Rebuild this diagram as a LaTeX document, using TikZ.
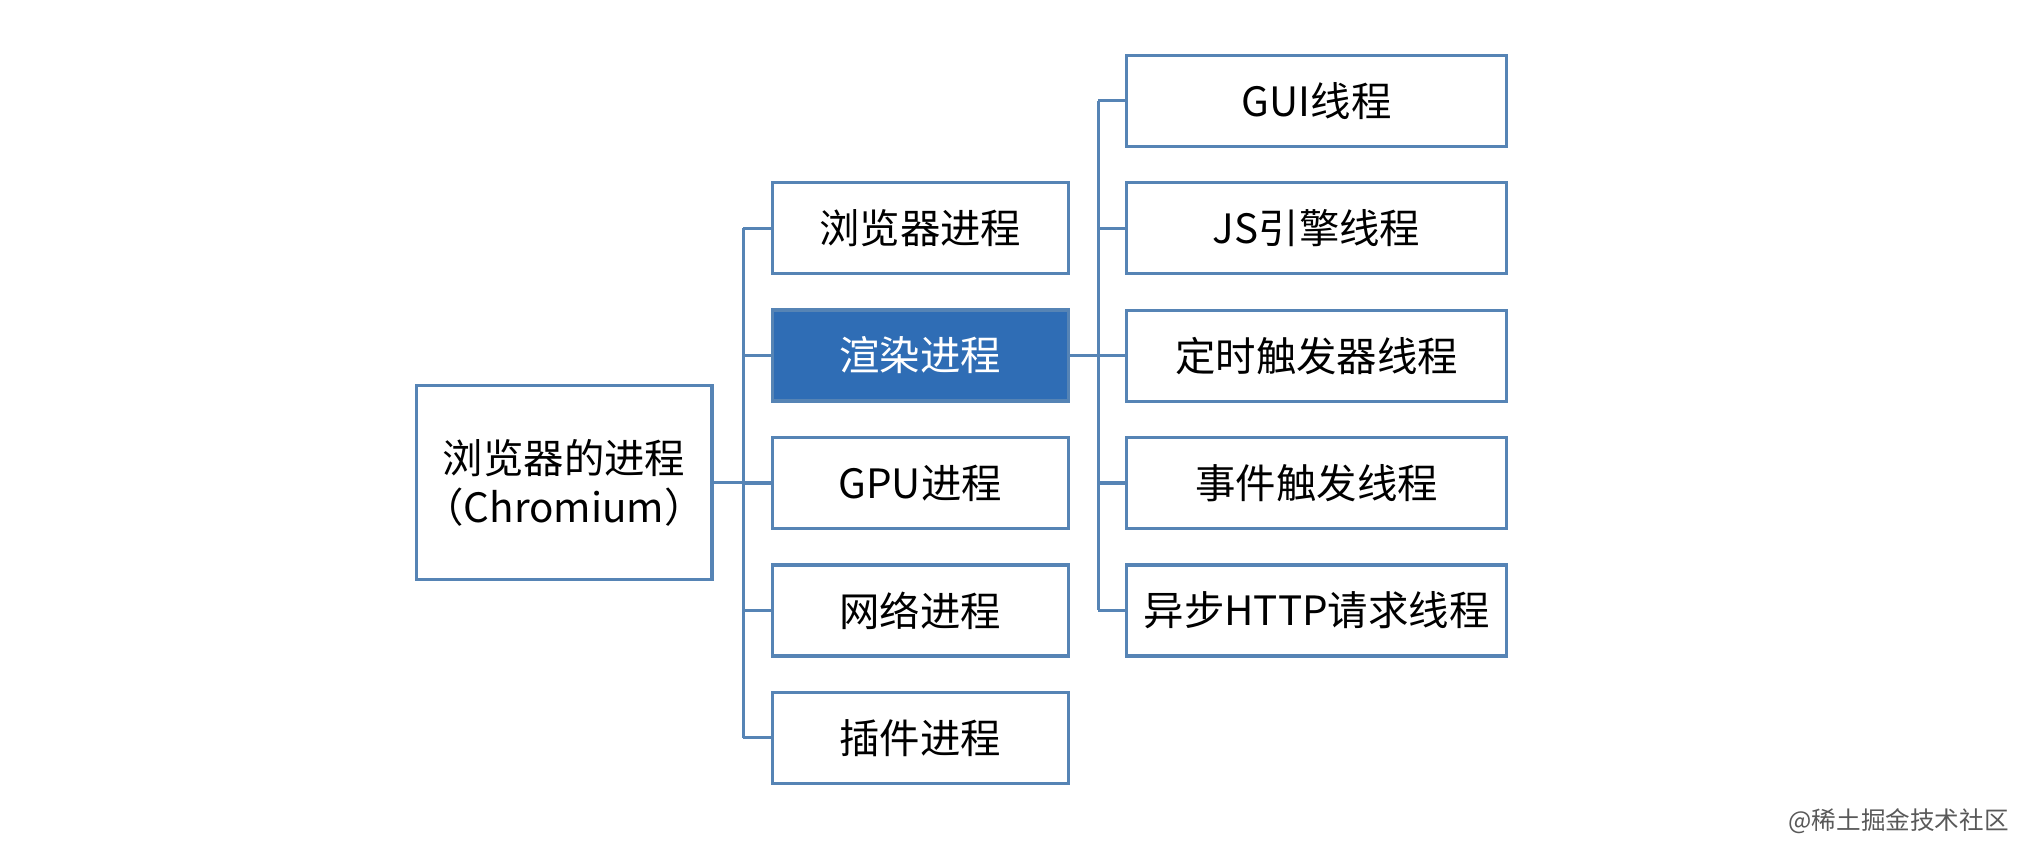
\documentclass[tikz,border=0pt]{standalone}
\usepackage{fontspec}
\setmainfont{Noto Sans CJK SC}
\usetikzlibrary{positioning}

\begin{document}
\begin{tikzpicture}[
            x=0.013cm,y=-0.013cm,
            node distance=0.333cm,
            font=\fontsize{11.5}{14}\selectfont
        ]
            \definecolor{edx}{HTML}{5684B5}
            \definecolor{fix}{HTML}{2F6DB5}

            \tikzset{
                box/.style={draw=edx,line width=0.9pt,fill=white,
                    minimum width=2.96cm,minimum height=0.91cm,inner sep=0pt},
                wide/.style={box,minimum width=3.8cm},
                link/.style={draw=edx,line width=0.9pt}
            }

            \useasboundingbox (0,0) rectangle (1568,652);

            \node (root) at (434,371.5) [box,minimum height=1.94cm,align=center]
                {浏览器的进程\\（Chromium）};

            \node (p1) at (708,175.5) [box]            {浏览器进程};
            \node (p2) [below=of p1,box,fill=fix,text=white] {渲染进程};
            \node (p3) [below=of p2,box]               {GPU进程};
            \node (p4) [below=of p3,box]               {网络进程};
            \node (p5) [below=of p4,box]               {插件进程};

            \node (t1) at (1013,77.5) [wide]           {GUI线程};
            \node (t2) [below=of t1,wide]              {JS引擎线程};
            \node (t3) [below=of t2,wide]              {定时触发器线程};
            \node (t4) [below=of t3,wide]              {事件触发线程};
            \node (t5) [below=of t4,wide]              {异步HTTP请求线程};

            \coordinate (ja) at (572,0);
            \coordinate (jb) at (845,0);

            \draw [link] (root.east) -- (root.east -| p3.west);
            \draw [link] (ja |- p1.west) -- (ja |- p5.west);
            \foreach \m in {p1,p2,p3,p4,p5}
                \draw [link] (ja |- \m.west) -- (\m.west);

            \draw [link] (p2.east) -- (p2.east -| t3.west);
            \draw [link] (jb |- t1.west) -- (jb |- t5.west);
            \foreach \m in {t1,t2,t3,t4,t5}
                \draw [link] (jb |- \m.west) -- (\m.west);

            \node (mark) at (1555,632) [anchor=east,gray!70!black,font=\fontsize{7}{8}\selectfont]
                {@稀土掘金技术社区};
\end{tikzpicture}
\end{document}
